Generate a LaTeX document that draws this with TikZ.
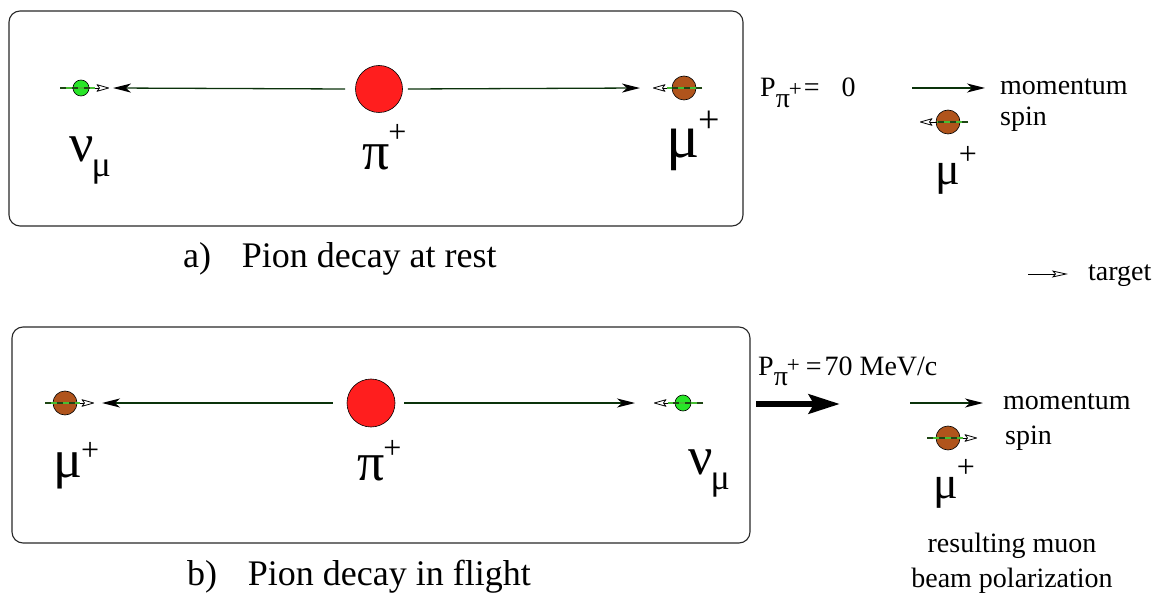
\documentclass[tikz,border=0pt]{standalone}
\usepackage{fontspec}
\setmainfont{Liberation Serif}
\usepackage{graphicx}
\usetikzlibrary{arrows.meta}
\definecolor{pired}{RGB}{255,30,30}
\definecolor{mubrown}{RGB}{176,84,28}
\definecolor{nugreen}{RGB}{40,230,40}
\definecolor{spingreen}{RGB}{70,190,50}
\definecolor{spindark}{RGB}{30,70,20}
\definecolor{momgreen}{RGB}{10,50,10}
\definecolor{boxgray}{RGB}{40,40,40}
% #1 glyph size, #2 plus size, #3 raise of plus, #4 glyph
\newcommand{\plabel}[4]{{\fontsize{#1}{#1}\selectfont #4}\hspace{-1pt}\raisebox{#3}{\fontsize{#2}{#2}\selectfont +}}
\newcommand{\nulabel}{{\fontsize{54}{60}\selectfont ν}\hspace{-2pt}\raisebox{-15pt}{\fontsize{36}{36}\selectfont μ}}
\tikzset{
  box/.style={draw=boxgray, line width=1.1pt, rounded corners=11pt},
  pion/.style={circle, draw, fill=pired, minimum size=47pt, inner sep=0pt, line width=0.6pt},
  muon/.style={circle, draw, fill=mubrown, minimum size=24pt, inner sep=0pt, line width=0.6pt},
  neutrino/.style={circle, draw, fill=nugreen, minimum size=16pt, inner sep=0pt, line width=0.6pt},
  mom/.style={draw=momgreen, line width=1.3pt, -{Stealth[length=18pt,width=9pt,inset=5pt,color=black]}},
  spintip/.style={draw=black, line width=0.8pt, -{Stealth[open,length=14pt,width=8pt,inset=3pt,round]}},
  spinaxis/.style={draw=spingreen, line width=1.4pt},
  spindash/.style={draw=spindark, line width=1.4pt, dash pattern=on 6pt off 6pt},
  bigarrow/.style={draw=black, line width=6.5pt, -{Stealth[length=31pt,width=19pt,inset=5pt]}},
  tgarrow/.style={draw=black, line width=0.8pt, -{Stealth[open,length=16pt,width=7pt,inset=3pt]}},
  txt/.style={inner sep=0pt, anchor=base west, font=\fontsize{28}{30}\selectfont},
  ctxt/.style={inner sep=0pt, anchor=base, font=\fontsize{28}{30}\selectfont},
  captext/.style={inner sep=0pt, anchor=base west, font=\fontsize{36}{40}\selectfont},
  greek/.style={inner sep=0pt, anchor=base west},
}
\begin{document}
\begin{tikzpicture}[x=1pt,y=-1pt]
\useasboundingbox (0,0) rectangle (1160,596);

% ---------------- a) at rest ----------------
\draw[box] (9,11) rectangle (743,226);
\node[neutrino] (nuA) at (81,88) {};
\node[pion] (piA) at (379,89) {};
\node[muon] (muA) at (684,88) {};
\coordinate (nuAtip) at (113,88);
\coordinate (muAtip) at (640,88);
\draw[mom] ([xshift=-10pt]piA.west) -- (nuAtip);
\draw[mom] ([xshift=5pt]piA.east) -- (muAtip);
% spins
\coordinate (nuAs0) at (60,88); \coordinate (nuAs1) at (95,88); \coordinate (nuAs2) at (109,88);
\draw[spinaxis] (nuAs0) -- (nuAs1); \draw[spindash] (nuAs0) -- (nuAs1);
\draw[spintip] (nuAs1) -- (nuAs2);
\coordinate (muAs0) at (702,88); \coordinate (muAs1) at (667,88); \coordinate (muAs2) at (653,88);
\draw[spinaxis] (muAs0) -- (muAs1); \draw[spindash] (muAs0) -- (muAs1);
\draw[spintip] (muAs1) -- (muAs2);
% labels
\node[greek] (nuAlab) at (69,162) {\nulabel};
\node[greek] (piAlab) at (362,170) {\plabel{54}{32}{27pt}{π}};
\node[greek] (muAlab) at (666,158) {\plabel{62}{38}{25pt}{μ}};
\node[captext] (capA) at (183,268) {a)\hspace{0.85em}Pion decay at rest};

% legend top
\node[txt] (PA) at (760,97) {P\raisebox{-11pt}{π}\hspace{-1pt}{\fontsize{23}{23}\selectfont +}\hspace{2pt}=\hspace{22pt}0};
\coordinate (momA0) at (912,88); \coordinate (momA1) at (985,88);
\draw[mom] (momA0) -- (momA1);
\node[txt] (momAt) at (1000,95) {momentum};
\node[muon] (muL1) at (948,122) {};
\coordinate (muL1s0) at (968,122); \coordinate (muL1s1) at (937,122); \coordinate (muL1s2) at (920,122);
\draw[spinaxis] (muL1s0) -- (muL1s1); \draw[spindash] (muL1s0) -- (muL1s1);
\draw[spintip] (muL1s1) -- (muL1s2);
\node[txt] (spinAt) at (1000,126) {spin};
\node[greek] (muL1lab) at (935,185) {\plabel{46}{32}{20pt}{μ}};

% target
\coordinate (tg0) at (1028,274); \coordinate (tg1) at (1068,274);
\draw[tgarrow] (tg0) -- (tg1);
\node[txt] (tgt) at (1088,281) {target};

% ---------------- b) in flight ----------------
\draw[box] (12,327) rectangle (750,543);
\node[muon] (muB) at (65,403) {};
\node[pion, minimum size=48pt] (piB) at (371,403) {};
\node[neutrino] (nuB) at (683,403) {};
\coordinate (muBtip) at (102,403);
\coordinate (nuBtip) at (635,403);
\draw[mom] ([xshift=-14pt]piB.west) -- (muBtip);
\draw[mom] ([xshift=9pt]piB.east) -- (nuBtip);
\coordinate (muBs0) at (45,403); \coordinate (muBs1) at (80,403); \coordinate (muBs2) at (94,403);
\draw[spinaxis] (muBs0) -- (muBs1); \draw[spindash] (muBs0) -- (muBs1);
\draw[spintip] (muBs1) -- (muBs2);
\coordinate (nuBs0) at (703,403); \coordinate (nuBs1) at (668,403); \coordinate (nuBs2) at (654,403);
\draw[spinaxis] (nuBs0) -- (nuBs1); \draw[spindash] (nuBs0) -- (nuBs1);
\draw[spintip] (nuBs1) -- (nuBs2);
\node[greek] (muBlab) at (53,477) {\plabel{54}{32}{17pt}{μ}};
\node[greek] (piBlab) at (357,480) {\plabel{54}{32}{22pt}{π}};
\node[greek] (nuBlab) at (688,474) {\nulabel};
\node[captext] (capB) at (187,585) {b)\hspace{0.85em}Pion decay in flight};

% legend bottom
\node[txt] (PB) at (758,375) {P\raisebox{-10pt}{π}\hspace{-1pt}\raisebox{3pt}{\fontsize{23}{23}\selectfont +}\hspace{6pt}=\hspace{3pt}70 MeV/c};
\coordinate (fl0) at (756,404); \coordinate (fl1) at (840,404);
\draw[bigarrow] (fl0) -- (fl1);
\coordinate (momB0) at (910,403); \coordinate (momB1) at (983,403);
\draw[mom] (momB0) -- (momB1);
\node[txt] (momBt) at (1003,409) {momentum};
\node[muon] (muL2) at (948,438) {};
\coordinate (muL2s0) at (927,438); \coordinate (muL2s1) at (963,438); \coordinate (muL2s2) at (977,438);
\draw[spinaxis] (muL2s0) -- (muL2s1); \draw[spindash] (muL2s0) -- (muL2s1);
\draw[spintip] (muL2s1) -- (muL2s2);
\node[txt] (spinBt) at (1005,444) {spin};
\node[greek] (muL2lab) at (933,498) {\plabel{46}{32}{21pt}{μ}};
\node[ctxt] (res1) at (1012,552) {resulting muon};
\node[ctxt] (res2) at (1012,587) {beam polarization};
\end{tikzpicture}
\end{document}
